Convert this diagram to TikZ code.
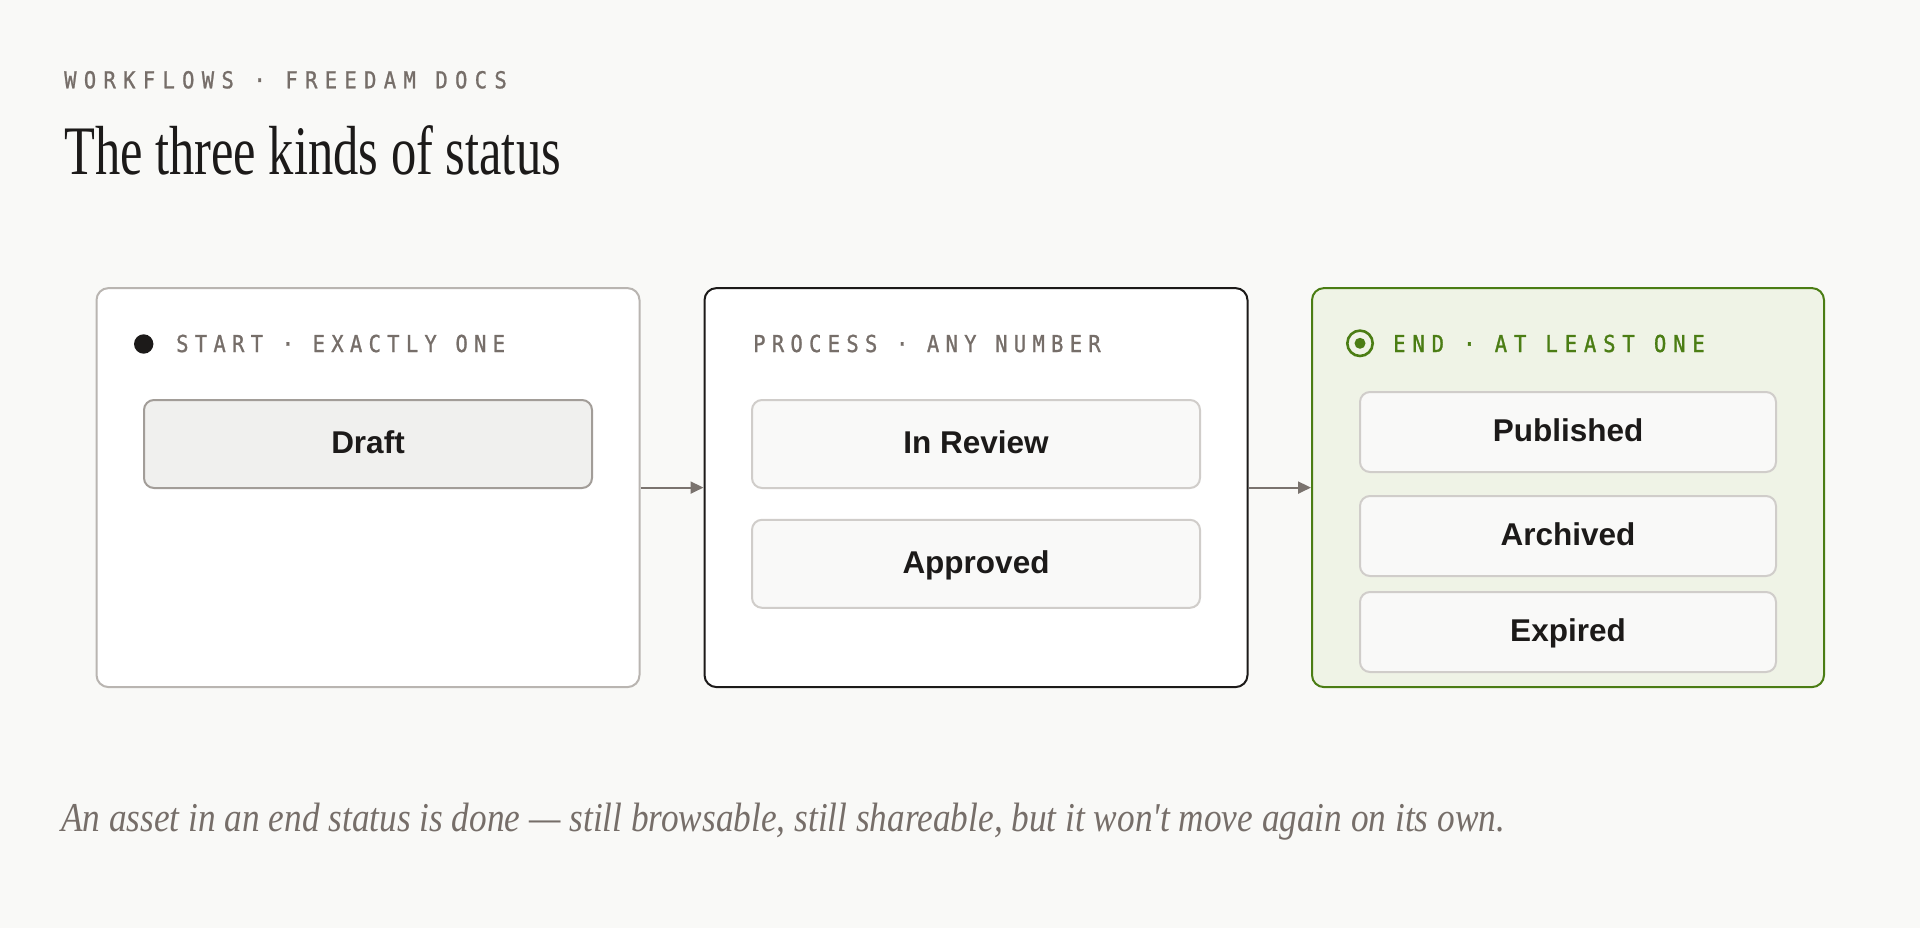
\documentclass[tikz,border=0pt]{standalone}
\usepackage{fontspec}
\usetikzlibrary{arrows.meta}
\newfontfamily\titlefont[FakeStretch=0.727]{Liberation Serif}
\newfontfamily\footfont[FakeStretch=0.86]{Liberation Serif}
\newfontfamily\hdrfont[FakeStretch=0.88,FakeBold=1,LetterSpace=27]{DejaVu Sans Mono}
\newfontfamily\endfont[FakeStretch=0.88,FakeBold=1.3,LetterSpace=29.5]{DejaVu Sans Mono}
\newfontfamily\kickfont[FakeStretch=0.88,FakeBold=1,LetterSpace=31.4]{DejaVu Sans Mono}
\newfontfamily\boxfont{Liberation Sans}
\definecolor{bg}{HTML}{F9F9F7}
\definecolor{ink}{HTML}{1C1A19}
\definecolor{muted}{HTML}{766E69}
\definecolor{grn}{HTML}{4B7D14}
\definecolor{grnfill}{HTML}{EFF3E6}
\definecolor{startborder}{HTML}{B9B5B1}
\definecolor{draftfill}{HTML}{F0F0EE}
\definecolor{draftborder}{HTML}{A29D98}
\definecolor{innerfill}{HTML}{F9F9F8}
\definecolor{innerborder}{HTML}{D0CDCA}
\definecolor{arrowc}{HTML}{7A736E}
\begin{document}
\begin{tikzpicture}[x=1pt,y=-1pt,
  groupbox/.style={rectangle, rounded corners=12pt, line width=2pt, minimum height=399pt, inner sep=0pt},
  statebox/.style={rectangle, rounded corners=10pt, line width=2pt, inner sep=0pt,
    text=ink, font=\boxfont\bfseries\fontsize{31.5pt}{36pt}\selectfont, text height=19pt, text depth=0pt},
  hdr/.style={inner sep=0pt, anchor=base west, font=\hdrfont\fontsize{23.3pt}{24pt}\selectfont},
  flow/.style={draw=arrowc, line width=2pt, -{Triangle[length=13pt,width=12pt]}}
]
\useasboundingbox (0,0) rectangle (1920,928);
\fill[bg] (0,0) rectangle (1920,928);

% heading
\node[inner sep=0pt, anchor=base west, text=muted, font=\kickfont\fontsize{23.3pt}{24pt}\selectfont] (kicker) at (64,88.3) {WORKFLOWS · FREEDAM DOCS};
\node[inner sep=0pt, anchor=base west, text=ink, font=\titlefont\fontsize{69.5pt}{70pt}\selectfont] (title) at (64,175) {The three kinds of status};

% group boxes
\node[groupbox, draw=startborder, fill=white, minimum width=543pt] (start) at (368,487.6) {};
\node[groupbox, draw=ink, fill=white, minimum width=543pt] (proc) at (976,487.6) {};
\node[groupbox, draw=grn, fill=grnfill, minimum width=512pt] (endg) at (1568,487.6) {};

% headers
\node[circle, fill=ink, minimum size=19.4pt, inner sep=0pt] (sdot) at (143.7,344) {};
\node[hdr, text=muted] (slab) at (176,352) {START · EXACTLY ONE};
\node[hdr, text=muted] (plab) at (753,352) {PROCESS · ANY NUMBER};
\node[circle, draw=grn, line width=2.6pt, minimum size=25.4pt, inner sep=0pt] (ering) at (1360,343.3) {};
\node[circle, fill=grn, minimum size=11pt, inner sep=0pt] (edot) at (ering.center) {};
\node[hdr, text=grn, font=\endfont\fontsize{23.3pt}{24pt}\selectfont] (elab) at (1393,352) {END · AT LEAST ONE};

% states
\node[statebox, draw=draftborder, fill=draftfill, minimum width=448pt, minimum height=88pt] (draft) at (368,444) {Draft};
\node[statebox, draw=innerborder, fill=innerfill, minimum width=448pt, minimum height=88pt] (review) at (976,444) {In Review};
\node[statebox, draw=innerborder, fill=innerfill, minimum width=448pt, minimum height=88pt] (approved) at (976,563.8) {Approved};
\node[statebox, draw=innerborder, fill=innerfill, minimum width=416pt, minimum height=80pt] (published) at (1568,432) {Published};
\node[statebox, draw=innerborder, fill=innerfill, minimum width=416pt, minimum height=80pt] (archived) at (1568,536) {Archived};
\node[statebox, draw=innerborder, fill=innerfill, minimum width=416pt, minimum height=80pt] (expired) at (1568,632) {Expired};

% connectors
\draw[flow] (start.east) -- (proc.west);
\draw[flow] (proc.east) -- (endg.west);

% footer
\node[inner sep=0pt, anchor=base west, text=muted, font=\footfont\itshape\fontsize{41pt}{44pt}\selectfont] (foot) at (61,831) {An asset in an end status is done — still browsable, still shareable, but it won't move again on its own.};
\end{tikzpicture}
\end{document}
